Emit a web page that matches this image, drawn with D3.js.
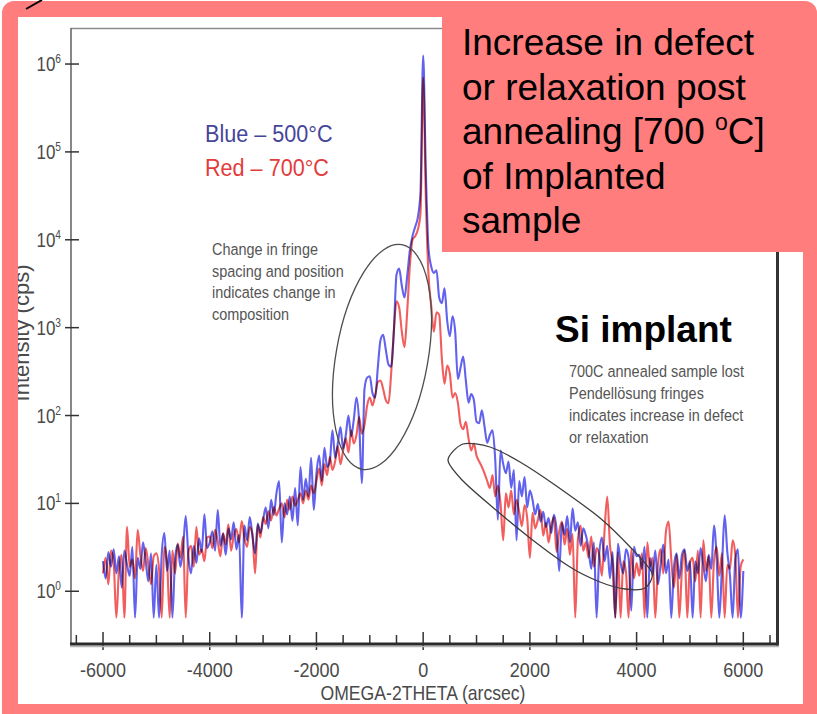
<!DOCTYPE html>
<html>
<head>
<meta charset="utf-8">
<script src="https://cdn.jsdelivr.net/npm/d3@7"></script>
<style>
  html, body { margin: 0; padding: 0; background: #fff; }
  svg { display: block; }
</style>
</head>
<body>
<svg id="chart" width="817" height="714"></svg>
<script>
// ---- Data: omega-2theta rocking curves of the Si-implanted sample ----
// Scan grid, arcsec (one reading every 50 arcsec from -6000 to +6000)
const scanAngle = d3.range(-6000, 6001, 50);

// Intensity (cps) after 500 °C anneal
const intensity500 = [
  2.2, 1.4, 2.8, 1.9, 3.0, 1.6, 2.5, 1.1, 2.9, 2.0, 1.5, 3.2, 0.5, 2.4, 1.8, 3.6, 2.2, 1.3, 2.7, 0.5,        // -6000 .. -5050
  2.0, 0.5, 2.6, 4.6, 1.7, 2.9, 0.5, 2.3, 3.4, 1.9, 3.0, 7.2, 2.5, 1.6, 3.3, 2.1, 4.0, 2.8, 7.5, 3.1,        // -5000 .. -4050
  3.6, 4.8, 2.9, 8.4, 3.3, 4.5, 2.6, 5.2, 3.9, 6.1, 3.0, 4.4, 0.5, 5.6, 3.8, 7.0, 4.3, 2.7, 5.9, 4.6,        // -4000 .. -3050
  6.5, 9.0, 5.2, 11, 7.4, 13, 18, 3.6, 10, 7.5, 12, 6.3, 15, 5.6, 26, 11, 19, 12, 33, 8.4,                    // -3000 .. -2050
  22, 35, 18, 43, 26, 30, 68, 33, 48, 74, 42, 60, 100, 58, 90, 160, 85, 17, 200, 270,                         // -2000 .. -1050
  280, 180, 160, 350, 720, 830, 560, 380, 360, 900, 4000, 4700, 3000, 2200, 3800, 7500, 11000, 14000, 18000, 35000, // -1000 .. -50
  1250000,                                                                                                    // 0
  60000, 8000, 5000, 4200, 4500, 2200, 1900, 2800, 1200, 800, 1350, 900, 260, 350, 470, 250, 140, 175, 150, 85, // 50 .. 1000
  82, 115, 75, 49, 60, 68, 32, 6.5, 40, 28, 22, 30, 15, 24, 3.8, 18, 12, 20, 9, 14,                           // 1050 .. 2000
  11, 7.5, 9.8, 6.2, 8.0, 5.4, 6.8, 4.6, 7.4, 5.0, 1.7, 6.0, 4.4, 7.2, 3.6, 8.8, 4.9, 6.1, 3.3, 5.2,          // 2050 .. 3000
  4.3, 3.0, 1.8, 3.6, 0.5, 2.7, 4.1, 2.2, 3.3, 1.4, 2.8, 0.5, 3.5, 2.1, 1.6, 3.0, 2.4, 0.6, 3.2, 2.5,         // 3050 .. 4000
  2.6, 1.8, 3.2, 0.5, 2.4, 1.5, 2.9, 1.2, 2.0, 3.4, 1.6, 2.3, 0.5, 1.9, 2.7, 1.4, 2.6, 3.0, 1.7, 2.2,         // 4050 .. 5000
  0.5, 2.2, 1.6, 3.1, 2.0, 1.3, 2.6, 1.8, 5.6, 2.4, 0.5, 1.9, 7.3, 2.8, 1.5, 0.5, 2.3, 3.0, 0.5, 1.7          // 5050 .. 6000
];

// Intensity (cps) after 700 °C anneal
const intensity700 = [
  1.6, 2.4, 1.2, 2.9, 2.1, 0.5, 1.8, 2.6, 0.5, 5.4, 1.9, 2.3, 1.4, 5.0, 2.6, 1.7, 3.1, 2.0, 1.2, 2.5,        // -6000 .. -5050
  2.7, 1.8, 0.5, 3.2, 2.2, 0.5, 2.9, 1.6, 3.5, 2.4, 4.2, 0.5, 2.8, 3.3, 1.9, 5.4, 2.6, 3.0, 2.2, 4.1,        // -5000 .. -4050
  4.2, 3.1, 5.0, 3.7, 2.5, 4.6, 3.4, 5.8, 2.9, 4.3, 5.1, 3.6, 6.3, 4.0, 3.2, 5.4, 4.5, 1.6, 5.7, 4.1,        // -4000 .. -3050
  7.0, 5.8, 8.2, 6.4, 9.1, 7.3, 8.7, 10, 6.9, 11, 8.5, 12, 9.4, 11, 13, 10, 14, 11, 16, 13,                   // -3000 .. -2050
  18, 25, 16, 28, 21, 34, 24, 30, 45, 28, 40, 55, 38, 68, 48, 60, 96, 62, 78, 130,                            // -2000 .. -1050
  160, 130, 170, 240, 250, 200, 150, 138, 300, 900, 2000, 1700, 900, 600, 1500, 5000, 10000, 11000, 13000, 20000, // -1000 .. -50
  700000,                                                                                                     // 0
  30000, 4000, 1800, 900, 1500, 1400, 450, 230, 370, 300, 160, 180, 140, 80, 70, 85, 55, 40, 48, 35,          // 50 .. 1000
  30, 26, 22, 18, 15, 21, 12, 16, 10, 3.8, 13, 9, 14, 7.5, 11, 8, 5.5, 9.5, 6.8, 2.4,                         // 1050 .. 2000
  7.8, 5.2, 6.5, 8.4, 4.3, 6.0, 3.6, 5.5, 7.0, 2.8, 4.8, 6.2, 3.4, 5.1, 2.6, 4.5, 0.5, 3.9, 5.6, 2.9,        // 2050 .. 3000
  3.6, 2.4, 4.2, 1.9, 3.1, 2.6, 1.5, 5.0, 12, 3.4, 2.0, 0.5, 2.8, 0.5, 2.2, 1.7, 0.5, 3.0, 1.4, 2.1,         // 3050 .. 4000
  1.5, 2.7, 0.5, 3.6, 1.9, 2.4, 0.5, 2.0, 3.0, 1.6, 4.8, 6.2, 2.3, 1.1, 2.6, 0.5, 1.8, 2.9, 0.5, 2.1,        // 4050 .. 5000
  2.4, 1.3, 2.9, 0.5, 3.8, 1.7, 2.5, 0.5, 2.2, 3.2, 1.5, 2.7, 0.5, 2.0, 1.8, 3.8, 2.6, 0.5, 1.9, 2.3         // 5050 .. 6000
];

// Axis ticks
const xMinorTicks = d3.range(-6500, 6501, 500);
const xTickLabels = [-6000, -4000, -2000, 0, 2000, 4000, 6000];
const yTickExponents = [0, 1, 2, 3, 4, 5, 6];

// Text content
const legendItems = [
  { label: "Blue \u2013 500\u00B0C", color: "#45459a" },
  { label: "Red \u2013 700\u00B0C", color: "#e23c3c" }
];
const fringeNote = ["Change in fringe", "spacing and position", "indicates change in", "composition"];
const relaxNote = ["700C annealed sample lost", "Pendell\u00F6sung fringes", "indicates increase in defect", "or relaxation"];

// ---- Drawing ----
const W = 817, H = 714;
const FONT = "'Liberation Sans', Arial, Helvetica, sans-serif";
const PINK = "#ff7d7d";
const svg = d3.select("#chart");

svg.append("rect").attr("width", W).attr("height", H).attr("fill", "#fff");

const x = d3.scaleLinear().domain([-6600, 6650]).range([71, 778]);
const y = d3.scaleLog().domain([Math.pow(10, -0.6), Math.pow(10, 6.41)]).range([644, 28]);

function txt(parent, s, tx, ty, size, o = {}) {
  const t = parent.append("text")
    .attr("transform", `translate(${tx},${ty}) ${o.rot ? `rotate(${o.rot})` : ""} scale(${o.sx || 1},${o.sy || 1})`)
    .attr("font-family", FONT)
    .attr("font-size", size)
    .attr("fill", o.fill || "#000")
    .attr("text-anchor", o.anchor || "start");
  if (o.weight) t.attr("font-weight", o.weight);
  t.text(s);
  return t;
}

const plot = svg.append("g");

// frame of the plot
plot.append("line").attr("x1", 71).attr("x2", 778).attr("y1", 28.5).attr("y2", 28.5)
  .attr("stroke", "#8a8a8a").attr("stroke-width", 1.5);
plot.append("line").attr("x1", 71).attr("x2", 71).attr("y1", 28).attr("y2", 645)
  .attr("stroke", "#6a6a6a").attr("stroke-width", 1.6);

// data curves
svg.append("defs").append("clipPath").attr("id", "plotClip")
  .append("rect").attr("x", 71).attr("y", 28).attr("width", 707).attr("height", 616);

const line = d3.line()
  .x((d, i) => x(scanAngle[i]))
  .y(d => y(d))
  .curve(d3.curveMonotoneX);

const curves = plot.append("g").attr("clip-path", "url(#plotClip)");
curves.append("path").datum(intensity500)
  .attr("d", line).attr("fill", "none")
  .attr("stroke", "#6262ee").attr("stroke-width", 2.1).attr("stroke-linejoin", "round");
curves.append("path").datum(intensity700)
  .attr("d", line).attr("fill", "none")
  .attr("stroke", "#f25e5e").attr("stroke-width", 2.1).attr("stroke-linejoin", "round")
  .style("mix-blend-mode", "multiply");

// y ticks and labels
yTickExponents.forEach(e => {
  const yy = y(Math.pow(10, e));
  plot.append("line").attr("x1", 65).attr("x2", 79).attr("y1", yy).attr("y2", yy)
    .attr("stroke", "#333").attr("stroke-width", 1.5);
  const t = txt(plot, "10", 61, yy + 7, 20, { anchor: "end", sx: 0.85, fill: "#4a4a4a" });
  t.append("tspan").attr("font-size", 12).attr("dy", -8).text(e);
});

// x ticks and labels
xMinorTicks.forEach(v => {
  const major = xTickLabels.includes(v);
  plot.append("line").attr("x1", x(v)).attr("x2", x(v))
    .attr("y1", major ? 632 : 635).attr("y2", major ? 650 : 644)
    .attr("stroke", "#333").attr("stroke-width", 1.5);
});
xTickLabels.forEach(v => {
  txt(plot, String(v), x(v), 677, 20, { anchor: "middle", sx: 0.9, fill: "#4a4a4a" });
});

// bottom axis and right border (heavy, with a soft shadow)
plot.append("line").attr("x1", 70).attr("x2", 779).attr("y1", 646.5).attr("y2", 646.5)
  .attr("stroke", "#b5b5b5").attr("stroke-width", 1.5);
plot.append("line").attr("x1", 70).attr("x2", 778).attr("y1", 644).attr("y2", 644)
  .attr("stroke", "#2a2a2a").attr("stroke-width", 3);
plot.append("line").attr("x1", 777.5).attr("x2", 777.5).attr("y1", 28).attr("y2", 645.5)
  .attr("stroke", "#333").attr("stroke-width", 3);

// axis titles
txt(plot, "OMEGA-2THETA (arcsec)", 423, 700, 20, { anchor: "middle", sx: 0.88, fill: "#4a4a4a" });
txt(plot, "Intensity (cps)", 29, 333, 22, { anchor: "middle", rot: -90, fill: "#4a4a4a" });

// legend
legendItems.forEach((d, i) => {
  txt(plot, d.label, 205, 142 + i * 34, 24, { sx: 0.9, fill: d.color });
});

// annotations
fringeNote.forEach((s, i) => txt(plot, s, 212, 255 + i * 21.7, 17, { sx: 0.85, fill: "#555" }));
relaxNote.forEach((s, i) => txt(plot, s, 569, 377 + i * 22, 17, { sx: 0.85, fill: "#555" }));

plot.append("ellipse").attr("cx", 382).attr("cy", 357).attr("rx", 46).attr("ry", 114)
  .attr("transform", "rotate(10,382,357)")
  .attr("fill", "none").attr("stroke", "#4d4d4d").attr("stroke-width", 1.3);

const loopPts = [[448, 460], [463, 444], [490, 447], [520, 462], [555, 485], [600, 518], [633, 550],
  [652, 573], [645, 588], [625, 589], [600, 582], [570, 567], [530, 538], [490, 505], [462, 480]];
plot.append("path")
  .attr("d", d3.line().curve(d3.curveCardinalClosed.tension(0.2))(loopPts))
  .attr("fill", "none").attr("stroke", "#3d3d3d").attr("stroke-width", 1.3);

txt(plot, "Si implant", 555, 342, 37, { weight: "bold" });

// pink slide frame
svg.append("path")
  .attr("d", "M14,1 H805 A12,12 0 0 1 817,13 V740 H2 V13 A12,12 0 0 1 14,1 Z M18,17 V704 H803 V17 Z")
  .attr("fill", PINK).attr("fill-rule", "evenodd");
svg.append("line").attr("x1", 26).attr("y1", 9).attr("x2", 42).attr("y2", 0)
  .attr("stroke", "#000").attr("stroke-width", 2);

// call-out box
const callout = svg.append("g");
callout.append("rect").attr("x", 442).attr("y", 10).attr("width", 362).attr("height", 242).attr("fill", PINK);
const calloutLines = ["Increase in defect", "or relaxation post", "annealing [700 ", "of Implanted", "sample"];
calloutLines.forEach((s, i) => {
  const t = txt(callout, s, 462, 55 + i * 44.5, 37);
  if (i === 2) {
    t.append("tspan").attr("font-size", 23).attr("dy", -14).text("o");
    t.append("tspan").attr("dy", 14).text("C]");
  }
});
</script>
</body>
</html>
